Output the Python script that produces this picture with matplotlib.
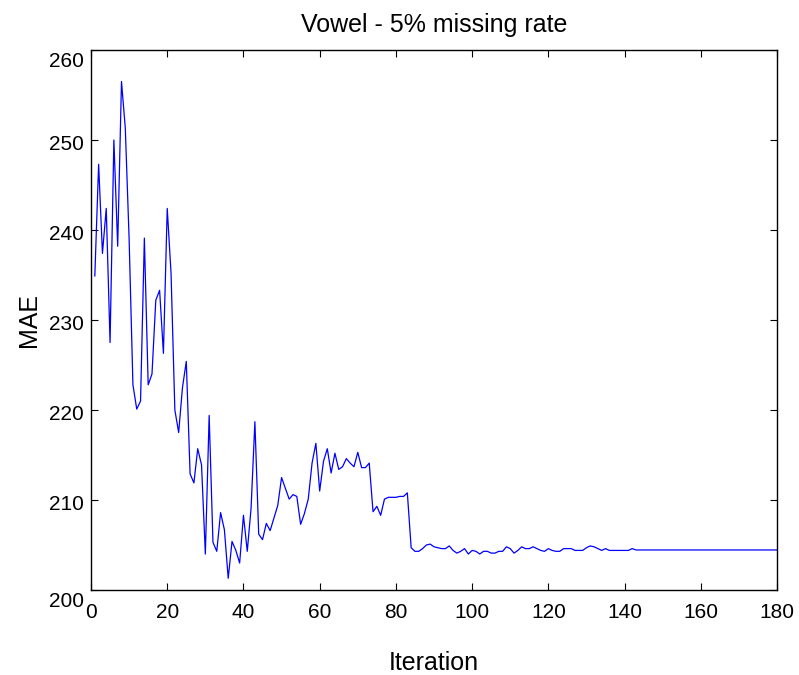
import matplotlib
matplotlib.use("Agg")
import matplotlib.pyplot as plt
from matplotlib.transforms import ScaledTranslation

# -- MAE per iteration (Vowel dataset, 5% missing values)
iterations = list(range(1, 181))

mae_start = [
    234.9, 247.3, 237.4, 242.4, 227.5, 250.0, 238.2, 256.5, 251.3, 239.0,
    222.8, 220.1, 221.0, 239.1, 222.8, 224.0, 232.2, 233.3, 226.3, 242.4,
    235.2, 220.0, 217.5, 222.5, 225.4, 212.9, 211.9, 215.7, 213.9, 204.0,
    219.4, 205.3, 204.3, 208.6, 206.7, 201.3, 205.4, 204.4, 203.0, 208.3,
    204.3, 209.1, 218.7, 206.2, 205.6, 207.4, 206.6, 208.0, 209.4, 212.5,
    211.3, 210.1, 210.6, 210.4, 207.3, 208.5, 210.1, 214.1, 216.3, 211.0,
    214.3, 215.7, 213.0, 215.2, 213.4, 213.7, 214.6, 214.1, 213.7, 215.3,
    213.6, 213.6, 214.1, 208.7, 209.3, 208.3, 210.1, 210.3, 210.3, 210.3,
    210.4, 210.4, 210.8, 204.7, 204.3, 204.3, 204.6, 205.0, 205.1, 204.8,
    204.7, 204.6, 204.6, 204.9, 204.4, 204.1, 204.3, 204.6, 204.0, 204.4,
    204.3, 204.0, 204.3, 204.3, 204.1, 204.1, 204.3, 204.3, 204.8, 204.6,
    204.1, 204.4, 204.8, 204.6, 204.6, 204.8, 204.6, 204.4, 204.3, 204.6,
    204.4, 204.3, 204.3, 204.6, 204.6, 204.6, 204.4, 204.4, 204.4, 204.7,
    204.9, 204.8, 204.6, 204.4, 204.6, 204.4, 204.4, 204.4, 204.4, 204.4,
    204.4, 204.6,
]
mae_final = 204.45
mae = mae_start + [mae_final] * (len(iterations) - len(mae_start))

x_ticks = [0, 20, 40, 60, 80, 100, 120, 140, 160, 180]
y_ticks = [200, 210, 220, 230, 240, 250, 260]

plt.rcParams["font.family"] = ["Liberation Sans", "DejaVu Sans"]

fig = plt.figure(figsize=(7.99, 6.75), dpi=100)
ax = fig.add_axes([0.1139, 0.1259, 0.8586, 0.8])

ax.plot(iterations, mae, color="#0000ff", linewidth=0.9)

ax.set_xlim(0, 180)
ax.set_ylim(200, 260)
ax.set_xticks(x_ticks)
ax.set_yticks(y_ticks)
ax.tick_params(direction="in", length=5, width=0.8, top=True, right=True,
               labelsize=15)
ax.tick_params(axis="x", pad=9)
ax.tick_params(axis="y", pad=5)
for spine in ax.spines.values():
    spine.set_linewidth(1.0)

# nudge y labels down a little, the end ones further so they sit inside the box
ylabels = ax.get_yticklabels()
for i, lbl in enumerate(ylabels):
    dy = -7 / 72 if i in (0, len(ylabels) - 1) else -1.5 / 72
    lbl.set_transform(lbl.get_transform() + ScaledTranslation(0, dy, fig.dpi_scale_trans))

ax.set_title("Vowel - 5% missing rate", fontsize=18, pad=13)
ax.set_xlabel("Iteration", fontsize=18, labelpad=21)
ax.set_ylabel("MAE", fontsize=18, labelpad=6)

fig.savefig("out.png", dpi=100)
